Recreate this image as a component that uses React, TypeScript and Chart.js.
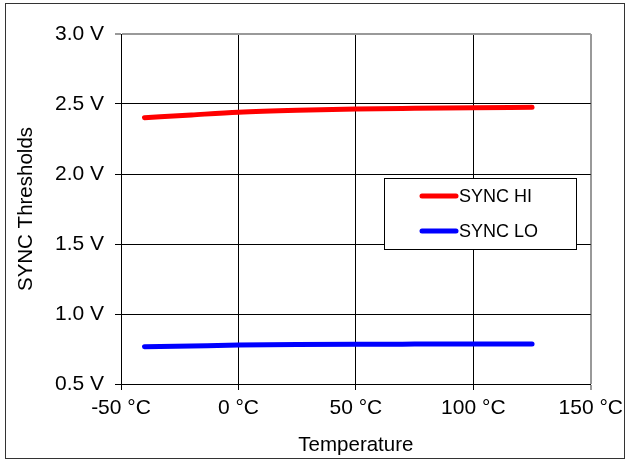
import React, { useEffect, useRef } from "react";
import { Chart, registerables } from "chart.js";

Chart.register(...registerables);

const temperatures = [-40, -20, 0, 25, 50, 75, 100, 125];
const syncHi = [2.402, 2.422, 2.441, 2.455, 2.464, 2.469, 2.473, 2.476];
const syncLo = [0.766, 0.772, 0.778, 0.782, 0.784, 0.785, 0.786, 0.786];
const seriesLabels = ["SYNC HI", "SYNC LO"];
const seriesColors = ["#ff0000", "#0000ff"];
const xTitle = "Temperature";
const yTitle = "SYNC Thresholds";

const FONT = "'Liberation Sans', Arial, sans-serif";

const boxLegend = {
  id: "boxLegend",
  afterDraw(chart: any) {
    const { ctx, chartArea } = chart;
    const x0 = chartArea.left + 263;
    const y0 = chartArea.top + 144;
    const w = 192;
    const h = 71;
    ctx.save();
    ctx.fillStyle = "#fff";
    ctx.fillRect(x0, y0, w, h);
    ctx.strokeStyle = "#000";
    ctx.lineWidth = 1;
    ctx.strokeRect(x0 + 0.5, y0 + 0.5, w, h);
    chart.data.datasets.forEach((ds: any, i: number) => {
      const cy = y0 + 18 + i * 35;
      ctx.strokeStyle = ds.borderColor;
      ctx.lineWidth = 5;
      ctx.lineCap = "round";
      ctx.beginPath();
      ctx.moveTo(x0 + 38, cy);
      ctx.lineTo(x0 + 72, cy);
      ctx.stroke();
      ctx.fillStyle = "#000";
      ctx.font = `18px ${FONT}`;
      ctx.textAlign = "left";
      ctx.textBaseline = "middle";
      ctx.fillText(ds.label, x0 + 75, cy + 1);
    });
    ctx.restore();
  },
};

export default function App() {
  const canvasRef = useRef<HTMLCanvasElement | null>(null);

  useEffect(() => {
    const canvas = canvasRef.current;
    if (!canvas) return;
    const chart = new Chart(canvas, {
      type: "line",
      data: {
        datasets: [syncHi, syncLo].map((vals, i) => ({
          label: seriesLabels[i],
          data: temperatures.map((t, j) => ({ x: t, y: vals[j] })),
          borderColor: seriesColors[i],
          backgroundColor: seriesColors[i],
          borderWidth: 5,
          borderCapStyle: "round",
          pointRadius: 0,
          cubicInterpolationMode: "monotone",
          fill: false,
        })),
      },
      options: {
        responsive: false,
        animation: false,
        layout: { padding: { left: 0, right: 38, top: 34, bottom: 0 } },
        plugins: { legend: { display: false }, tooltip: { enabled: false } },
        scales: {
          x: {
            type: "linear",
            min: -50,
            max: 150,
            afterFit: (s: any) => {
              s.height = 77;
            },
            ticks: {
              stepSize: 50,
              color: "#000",
              font: { family: FONT, size: 21 },
              padding: 6,
              maxRotation: 0,
              callback: (v: any) => `${v} °C`,
            },
            grid: {
              color: (c: any) => (c.tick && c.tick.value === 150 ? "#999" : "#000"),
              lineWidth: (c: any) => (c.tick && c.tick.value === 150 ? 2 : 1),
              tickLength: 6,
            },
            border: { color: "#000" },
            title: {
              display: true,
              text: xTitle,
              color: "#000",
              font: { family: FONT, size: 20.5 },
              padding: { top: 0, bottom: 3 },
            },
          },
          y: {
            type: "linear",
            min: 0.5,
            max: 3.0,
            afterFit: (s: any) => {
              s.width = 121;
            },
            ticks: {
              stepSize: 0.5,
              color: "#000",
              font: { family: FONT, size: 21 },
              padding: 11,
              callback: (v: any) => `${Number(v).toFixed(1)} V`,
            },
            grid: {
              color: (c: any) => (c.tick && c.tick.value === 3 ? "#999" : "#000"),
              lineWidth: (c: any) => (c.tick && c.tick.value === 3 ? 2 : 1),
              tickLength: 6,
            },
            border: { color: "#000" },
            title: {
              display: true,
              text: yTitle,
              color: "#000",
              font: { family: FONT, size: 20.5 },
              padding: { top: 14, bottom: 0 },
            },
          },
        },
      },
      plugins: [boxLegend],
    } as any);
    return () => chart.destroy();
  }, []);

  return (
    <div style={{ position: "fixed", left: 0, top: 0, width: 629, height: 461, background: "#fff" }}>
      <canvas ref={canvasRef} width={629} height={461} style={{ position: "absolute", left: 0, top: 0 }} />
      <div
        style={{
          position: "absolute",
          left: 5,
          top: 3,
          width: 618,
          height: 454,
          border: "1px solid #333",
          pointerEvents: "none",
        }}
      />
    </div>
  );
}
